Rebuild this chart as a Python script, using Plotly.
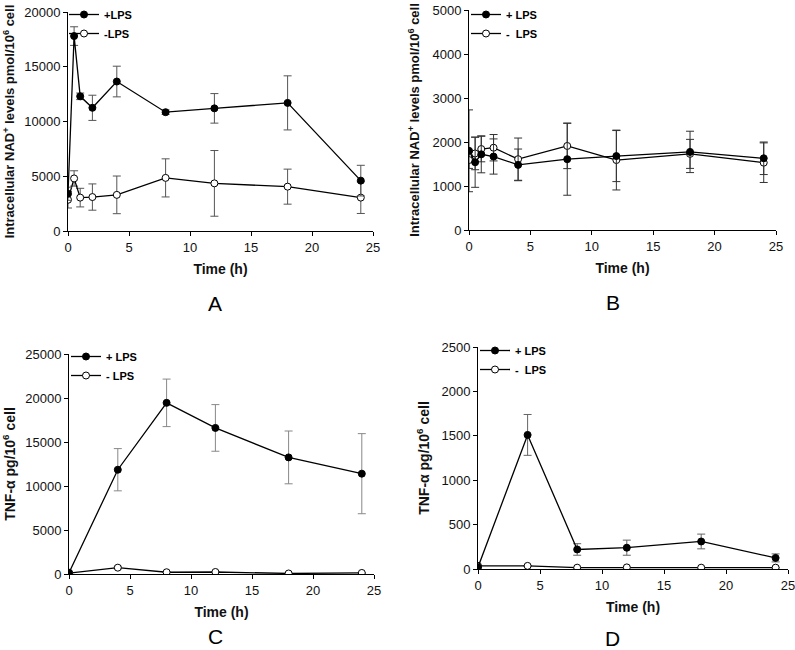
import plotly.graph_objects as go

# time points (h)
t_nad = [0, 0.5, 1, 2, 4, 8, 12, 18, 24]
t_tnf = [0, 4, 8, 12, 18, 24]

# Panel A - intracellular NAD+ (pmol/10^6 cell)
a_plus = [3400, 17800, 12300, 11250, 13650, 10850, 11200, 11700, 4600]
a_plus_err = [600, 850, 300, 1150, 1400, 200, 1350, 2470, 1400]
a_minus = [2850, 4800, 3050, 3100, 3300, 4850, 4350, 4050, 3050]
a_minus_err = [750, 700, 850, 1200, 1720, 1740, 3000, 1600, 1450]

# Panel B - intracellular NAD+ (pmol/10^6 cell)
b_plus = [1800, 1540, 1720, 1670, 1480, 1610, 1680, 1775, 1630]
b_plus_err = [930, 570, 420, 400, 360, 820, 580, 470, 370]
b_minus = [1590, 1740, 1840, 1870, 1610, 1910, 1590, 1730, 1530]
b_minus_err = [190, 370, 290, 300, 480, 515, 680, 330, 450]

# Panel C - TNF-alpha (pg/10^6 cell)
c_plus = [150, 11850, 19450, 16600, 13250, 11400]
c_plus_err = [50, 2400, 2700, 2650, 3000, 4550]
c_minus = [100, 720, 200, 230, 60, 120]
c_minus_err = [20, 150, 30, 30, 20, 20]

# Panel D - TNF-alpha (pg/10^6 cell)
d_plus = [20, 1510, 220, 240, 310, 125]
d_plus_err = [5, 230, 65, 85, 83, 45]
d_minus = [35, 35, 15, 18, 15, 15]
d_minus_err = [3, 3, 3, 3, 3, 3]

W, H = 795, 650
FONT = "Liberation Sans, Arial, sans-serif"


def px_x(p):
    return p / W


def px_y(p):
    return 1 - p / H


fig = go.Figure()

panels = [
    # axis suffix, legend name, t, plus, plus_err, minus, minus_err, labels, err colour
    ("", "legend", t_nad, a_plus, a_plus_err, a_minus, a_minus_err, ("+LPS", "-LPS"), "#555"),
    ("2", "legend2", t_nad, b_plus, b_plus_err, b_minus, b_minus_err, ("+ LPS", "-  LPS"), "#333"),
    ("3", "legend3", t_tnf, c_plus, c_plus_err, c_minus, c_minus_err, ("+ LPS", "- LPS"), "#888"),
    ("4", "legend4", t_tnf, d_plus, d_plus_err, d_minus, d_minus_err, ("+ LPS", "-  LPS"), "#666"),
]

for ax, leg, t, yp, ep, ym, em, labels, ecol in panels:
    fig.add_trace(go.Scatter(
        x=t, y=ym, name=labels[1], mode="lines+markers", xaxis="x" + ax, yaxis="y" + ax,
        legend=leg, legendrank=2,
        line=dict(color="black", width=1.3),
        marker=dict(symbol="circle", size=7, color="white", line=dict(color="black", width=1)),
        error_y=dict(type="data", array=em, color=ecol, thickness=1, width=4),
    ))
    fig.add_trace(go.Scatter(
        x=t, y=yp, name=labels[0], mode="lines+markers", xaxis="x" + ax, yaxis="y" + ax,
        legend=leg, legendrank=1,
        line=dict(color="black", width=1.3),
        marker=dict(symbol="circle", size=7, color="black", line=dict(color="black", width=1)),
        error_y=dict(type="data", array=ep, color=ecol, thickness=1, width=4),
    ))

# axis domains from the reference pixel layout
domains = {
    "": ((68, 373), (12, 231)),
    "2": ((469, 776), (10, 230)),
    "3": ((69, 374), (354, 574)),
    "4": ((478, 788), (347, 569)),
}
yranges = {"": (0, 20000, 5000), "2": (0, 5000, 1000), "3": (0, 25000, 5000), "4": (0, 2500, 500)}
ytitles = {
    "": "Intracellular NAD<sup>+</sup> levels pmol/10<sup>6</sup> cell",
    "2": "Intracellular NAD<sup>+</sup> levels pmol/10<sup>6</sup> cell",
    "3": "TNF-α pg/10<sup>6</sup> cell",
    "4": "TNF-α pg/10<sup>6</sup> cell",
}
ytitle_size = {"": 13, "2": 13, "3": 14, "4": 14}
standoffs = {"": 6, "2": 9, "3": 8, "4": 8}

axis_common = dict(
    showline=True, linecolor="black", linewidth=1, showgrid=False, zeroline=False, automargin=False,
    ticks="outside", ticklen=4, tickcolor="black", ticklabeloverflow="allow",
    tickfont=dict(family=FONT, size=13, color="#111"),
)

for ax, ((x0, x1), (y0, y1)) in domains.items():
    lo, hi, step = yranges[ax]
    fig.update_layout(**{
        "xaxis" + ax: dict(
            axis_common, domain=[px_x(x0), px_x(x1)], range=[0, 25], tickvals=[0, 5, 10, 15, 20, 25],
            anchor="y" + ax,
            title=dict(text="<b>Time (h)</b>", font=dict(family=FONT, size=14, color="#111"), standoff=10),
        ),
        "yaxis" + ax: dict(
            axis_common, domain=[px_y(y1), px_y(y0)], range=[lo, hi], dtick=step, tick0=0,
            tickformat="d", anchor="x" + ax,
            title=dict(text="<b>" + ytitles[ax] + "</b>",
                       font=dict(family=FONT, size=ytitle_size[ax], color="#111"),
                       standoff=standoffs[ax]),
        ),
    })

legend_common = dict(
    bgcolor="rgba(0,0,0,0)", borderwidth=0, font=dict(family=FONT, size=11, color="black", weight="bold"),
    xanchor="left", yanchor="top", tracegroupgap=0, itemwidth=30, traceorder="normal",
)
fig.update_layout(
    legend=dict(legend_common, x=px_x(64), y=px_y(0)),
    legend2=dict(legend_common, x=px_x(466), y=px_y(0)),
    legend3=dict(legend_common, x=px_x(66), y=px_y(342)),
    legend4=dict(legend_common, x=px_x(475), y=px_y(336)),
)

# panel letters
for letter, (xp, yp) in {"A": (215, 303), "B": (613, 302), "C": (215, 636), "D": (612, 638)}.items():
    fig.add_annotation(x=px_x(xp), y=px_y(yp), xref="paper", yref="paper", text=letter, showarrow=False,
                       xanchor="center", yanchor="middle",
                       font=dict(family=FONT, size=21, color="black"))

fig.update_layout(
    width=W, height=H, margin=dict(l=0, r=0, t=0, b=0),
    paper_bgcolor="white", plot_bgcolor="white", showlegend=True,
)

# drop the default page margin so the figure fills the window
fig.write_html("out.html", config={"displayModeBar": False},
               post_script="document.body.style.margin='0';")
